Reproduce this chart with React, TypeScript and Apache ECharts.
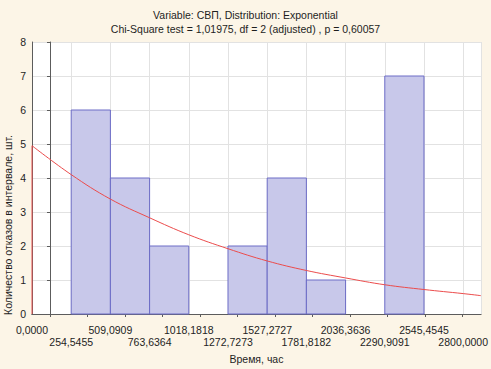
import React, { useEffect, useRef } from "react";
import * as echarts from "echarts";

const titleLines = [
  "Variable: СВП, Distribution: Exponential",
  "Chi-Square test = 1,01975, df = 2 (adjusted) , p = 0,60057",
];
const xAxisTitle = "Время, час";
const yAxisTitle = "Количество отказов в интервале, шт.";

// bin edges (x tick values) and their printed labels
const binEdges = [0, 254.5455, 509.0909, 763.6364, 1018.1818, 1272.7273, 1527.2727, 1781.8182, 2036.3636, 2290.9091, 2545.4545, 2800];
const xTickLabels = ["0,0000", "254,5455", "509,0909", "763,6364", "1018,1818", "1272,7273", "1527,2727", "1781,8182", "2036,3636", "2290,9091", "2545,4545", "2800,0000"];
// observed counts per bin (11 bins)
const binCounts = [0, 6, 4, 2, 0, 2, 4, 1, 0, 7, 0];

// fitted exponential curve
const curveX = [0, 254.5, 509.1, 763.6, 1018.2, 1272.7, 1527.3, 1781.8, 2036.4, 2290.9, 2545.5, 2800, 2915];
const curveY = [4.95, 4.1, 3.38, 2.83, 2.33, 1.92, 1.56, 1.28, 1.06, 0.86, 0.72, 0.6, 0.54];

const yTicks = [0, 1, 2, 3, 4, 5, 6, 7, 8];
const topTicks = [0, 1, 2, 3, 4, 5, 6, 7, 8, 9, 10, 11];

const FONT = "'Liberation Sans', Arial, sans-serif";
const TXT = "#1e1e1e";
const AX = "#5c5c5c";
const GRID = "#e2e2e2";
const FS = 10.5;

export default function App() {
  const ref = useRef<HTMLDivElement>(null);
  useEffect(() => {
    if (!ref.current) return;
    const chart = echarts.init(ref.current, null, { renderer: "svg" });
    const binWidth = binEdges[1] - binEdges[0];
    const xMax = 2915;
    const histData = binCounts.map((c, i) => [binEdges[i], binEdges[i + 1], c]);
    const curveData = curveX.map((x, i) => [x, curveY[i]]);

    chart.setOption({
      animation: false,
      backgroundColor: "#fcf5e7",
      textStyle: { fontFamily: FONT },
      title: {
        text: titleLines.join("\n"),
        left: "center",
        top: 3,
        textStyle: { fontSize: FS, fontWeight: "normal", color: TXT, lineHeight: 14, fontFamily: FONT },
      },
      grid: { left: 32, right: 10, top: 42, bottom: 49, backgroundColor: "#ffffff", show: true, borderWidth: 0 },
      xAxis: [
        {
          type: "value",
          min: 0,
          max: xMax,
          interval: binWidth,
          position: "bottom",
          name: xAxisTitle,
          nameLocation: "middle",
          nameGap: 39,
          nameTextStyle: { fontSize: FS, color: TXT, fontFamily: FONT },
          axisLine: { show: true, lineStyle: { color: AX } },
          axisTick: { show: false },
          splitLine: { show: true, lineStyle: { color: GRID, width: 1 } },
          axisLabel: {
            fontSize: FS,
            color: TXT,
            margin: 10,
            lineHeight: 12,
            fontFamily: FONT,
            showMinLabel: true,
            showMaxLabel: true,
            formatter: (v: number) => {
              if (v > 2800.5) return "";
              const idx = Math.round(v / binWidth);
              const lab = xTickLabels[idx] ?? "";
              return idx % 2 === 1 ? "\n" + lab : lab;
            },
          },
        },
        {
          type: "value",
          min: -0.48,
          max: 11.493,
          position: "top",
          axisLine: { show: true, lineStyle: { color: AX } },
          axisTick: { show: true, inside: true, length: 3, customValues: topTicks, lineStyle: { color: AX } },
          axisLabel: { show: false },
          splitLine: { show: false },
        },
      ],
      yAxis: [
        {
          type: "value",
          min: 0,
          max: 8,
          interval: 1,
          position: "left",
          axisLine: { show: true, lineStyle: { color: AX } },
          axisTick: { show: false },
          splitLine: { show: true, lineStyle: { color: GRID, width: 1 } },
          axisLabel: { fontSize: FS, color: TXT, margin: 6, fontFamily: FONT, formatter: (v: number) => (yTicks.includes(v) ? String(v) : "") },
        },
        {
          type: "value",
          min: 0,
          max: 8,
          interval: 1,
          position: "right",
          axisLine: { show: true, lineStyle: { color: AX } },
          axisTick: { show: true, inside: true, length: 3, lineStyle: { color: AX } },
          axisLabel: { show: false },
          splitLine: { show: false },
        },
      ],
      graphic: [
        {
          type: "text",
          x: 8,
          y: 225,
          rotation: Math.PI / 2,
          style: {
            text: yAxisTitle,
            fontSize: FS,
            fill: TXT,
            fontFamily: FONT,
            align: "center",
            verticalAlign: "middle",
          },
        },
      ],
      series: [
        {
          type: "custom",
          xAxisIndex: 0,
          yAxisIndex: 0,
          data: histData,
          encode: { x: [0, 1], y: 2 },
          renderItem: (params: any, api: any) => {
            const c = api.value(2);
            if (!c) return null;
            const p0 = api.coord([api.value(0), c]);
            const p1 = api.coord([api.value(1), 0]);
            return {
              type: "rect",
              shape: { x: p0[0], y: p0[1], width: p1[0] - p0[0], height: p1[1] - p0[1] },
              style: { fill: "#c8c8ea", stroke: "#6c6cc6", lineWidth: 1 },
            };
          },
          z: 2,
        },
        {
          type: "line",
          xAxisIndex: 0,
          yAxisIndex: 0,
          data: [[curveX[0], 0], [curveX[0], curveY[0]]],
          showSymbol: false,
          lineStyle: { color: "#e85050", width: 1 },
          z: 3,
        },
        {
          type: "line",
          xAxisIndex: 0,
          yAxisIndex: 0,
          data: curveData,
          smooth: 0.4,
          showSymbol: false,
          lineStyle: { color: "#ec4c4c", width: 1 },
          z: 3,
        },
      ],
    });
    return () => chart.dispose();
  }, []);
  return <div ref={ref} style={{ position: "fixed", left: 0, top: 0, width: 491, height: 369 }} />;
}
